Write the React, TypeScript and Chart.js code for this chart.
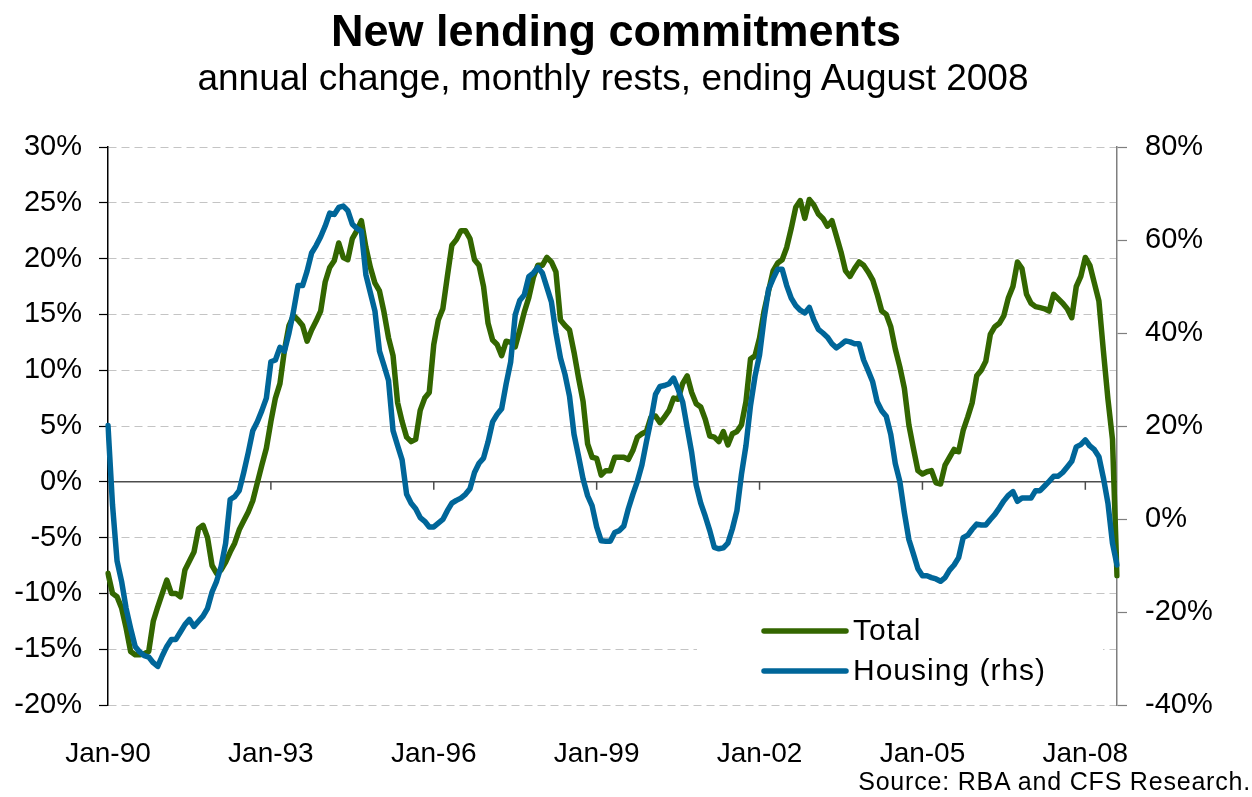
import React, { useEffect, useRef } from 'react';
import { Chart, registerables } from 'chart.js';

Chart.register(...registerables);

// ---------- Data ----------
const START_YEAR = 1990;
const MONTH_COUNT = 224; // Jan-90 .. Aug-08
const MONTH_NAMES = ['Jan', 'Feb', 'Mar', 'Apr', 'May', 'Jun', 'Jul', 'Aug', 'Sep', 'Oct', 'Nov', 'Dec'];
const categories: string[] = Array.from({ length: MONTH_COUNT }, (_, i) =>
  `${MONTH_NAMES[i % 12]}-${String((START_YEAR + Math.floor(i / 12)) % 100).padStart(2, '0')}`
);
const xTickLabels = ['Jan-90', 'Jan-93', 'Jan-96', 'Jan-99', 'Jan-02', 'Jan-05', 'Jan-08'];

// Total new lending commitments, annual % change (left axis)
const totalValues = [
  -8.2, -10.0, -10.3, -11.3, -13.1, -15.2, -15.5, -15.5, -15.4, -15.2, -12.5, -11.2,
  -10.0, -8.8, -10.0, -10.0, -10.3, -7.9, -7.1, -6.3, -4.2, -3.9, -5.0, -7.5,
  -8.2, -7.9, -7.2, -6.3, -5.5, -4.3, -3.5, -2.7, -1.7, -0.1, 1.5, 3.0,
  5.4, 7.5, 8.8, 11.8, 14.0, 14.9, 14.5, 14.0, 12.6, 13.6, 14.4, 15.3,
  17.9, 19.2, 19.8, 21.4, 20.1, 19.9, 21.8, 22.5, 23.4, 21.0, 19.2, 17.8,
  17.1, 15.2, 12.9, 11.3, 7.1, 5.4, 4.0, 3.6, 3.8, 6.4, 7.5, 8.0,
  12.3, 14.5, 15.5, 18.4, 21.2, 21.7, 22.5, 22.5, 21.8, 19.9, 19.4, 17.5,
  14.2, 12.7, 12.3, 11.3, 12.6, 12.5, 12.1, 13.6, 15.2, 16.5, 18.3, 19.4,
  19.4, 20.1, 19.7, 18.8, 14.5, 14.0, 13.6, 11.6, 9.3, 7.2, 3.4, 2.2,
  2.1, 0.6, 1.0, 1.0, 2.2, 2.2, 2.2, 2.0, 2.8, 4.0, 4.3, 4.5,
  5.8, 5.9, 5.3, 5.8, 6.4, 7.5, 7.4, 8.8, 9.5, 8.0, 7.0, 6.7,
  5.6, 4.1, 4.0, 3.6, 4.5, 3.3, 4.3, 4.5, 5.1, 7.2, 11.0, 11.3,
  12.9, 15.3, 17.1, 18.9, 19.6, 19.9, 21.0, 22.7, 24.6, 25.2, 23.6, 25.3,
  24.8, 24.0, 23.6, 22.9, 23.4, 22.0, 20.6, 18.9, 18.4, 19.1, 19.7, 19.4,
  18.8, 18.1, 16.8, 15.3, 15.0, 13.9, 11.9, 10.3, 8.4, 5.1, 3.0, 1.0,
  0.7, 0.9, 1.0, -0.1, -0.2, 1.5, 2.2, 2.9, 2.7, 4.6, 5.8, 7.1,
  9.5, 10.0, 10.8, 13.2, 13.9, 14.2, 14.9, 16.5, 17.5, 19.7, 19.1, 16.8,
  16.0, 15.7, 15.6, 15.5, 15.3, 16.8, 16.4, 16.0, 15.5, 14.7, 17.5, 18.4,
  20.1, 19.4, 17.8, 16.2, 11.7, 7.4, 3.8, -8.4,
];

// Housing new lending commitments, annual % change (right axis)
const housingValues = [
  20.1, 3.0, -9.0, -13.4, -19.2, -23.5, -27.4, -28.6, -29.4, -29.7, -30.9, -31.7,
  -29.4, -27.4, -25.9, -25.9, -24.3, -22.7, -21.6, -23.1, -22.0, -20.9, -19.2, -15.7,
  -13.4, -10.2, -5.2, 4.2, 4.8, 6.1, 10.0, 14.3, 19.0, 20.9, 23.3, 26.0,
  33.8, 34.2, 36.9, 36.1, 40.0, 44.7, 50.2, 50.2, 53.3, 57.2, 58.8, 60.7,
  63.0, 65.8, 65.5, 67.0, 67.3, 66.3, 63.4, 62.5, 61.9, 52.5, 48.6, 44.7,
  36.1, 33.0, 29.8, 19.0, 15.8, 12.7, 5.3, 3.4, 2.2, 0.3, -0.5, -1.7,
  -1.7, -0.9, -0.1, 1.8, 3.4, 4.0, 4.5, 5.3, 6.5, 10.0, 12.0, 13.1,
  16.6, 20.9, 22.5, 23.7, 29.1, 33.8, 43.9, 47.0, 48.2, 52.1, 52.9, 54.1,
  52.9, 49.8, 46.7, 40.0, 34.6, 31.1, 26.4, 18.2, 13.5, 8.6, 5.0, 2.8,
  -1.7, -4.7, -4.8, -4.8, -2.9, -2.5, -1.5, 2.2, 5.3, 8.1, 11.6, 16.6,
  21.3, 26.8, 28.5, 28.7, 29.1, 30.3, 27.9, 25.2, 19.7, 14.3, 7.3, 3.4,
  0.6, -2.5, -6.1, -6.4, -6.2, -5.2, -2.1, 1.8, 9.6, 15.8, 24.4, 30.7,
  35.3, 43.1, 49.4, 51.7, 53.7, 53.7, 50.2, 47.5, 45.9, 44.9, 44.3, 45.5,
  42.8, 40.8, 40.0, 39.1, 37.7, 36.8, 37.5, 38.3, 38.1, 37.7, 37.7, 34.2,
  31.9, 29.5, 25.2, 23.3, 22.1, 18.2, 11.9, 8.1, 1.4, -4.4, -7.5, -10.7,
  -12.2, -12.2, -12.6, -12.9, -13.4, -12.6, -11.0, -9.9, -8.3, -4.0, -3.5, -2.2,
  -1.1, -1.3, -1.3, -0.1, 1.0, 2.4, 3.9, 5.1, 5.9, 3.8, 4.5, 4.5,
  4.5, 6.1, 6.1, 7.1, 8.1, 9.2, 9.2, 10.0, 11.2, 12.4, 15.5, 16.0,
  17.0, 15.7, 14.9, 13.4, 8.8, 3.4, -5.2, -9.9,
];

const leftAxis = { min: -20, max: 30, step: 5 };
const rightAxis = { min: -40, max: 80, step: 20 };

const seriesLabels = ['Total', 'Housing (rhs)'];
const seriesColors = ['#336600', '#006699'];

const FONT = '"Liberation Sans", Arial, Helvetica, sans-serif';

// ---------- Plugins ----------
const zeroAxisPlugin = {
  id: 'zeroAxis',
  beforeDatasetsDraw(chart: any) {
    const { ctx, chartArea, scales } = chart;
    const y0 = scales.y.getPixelForValue(0);
    ctx.save();
    ctx.strokeStyle = '#4d4d4d';
    ctx.lineWidth = 1.5;
    ctx.beginPath();
    ctx.moveTo(chartArea.left, y0);
    ctx.lineTo(chartArea.right, y0);
    ctx.stroke();
    categories.forEach((c, i) => {
      if (i > 0 && xTickLabels.includes(c)) {
        const x = scales.x.getPixelForValue(i);
        ctx.beginPath();
        ctx.moveTo(x, y0);
        ctx.lineTo(x, y0 + 8);
        ctx.stroke();
      }
    });
    // legend background (covers grid lines)
    ctx.fillStyle = '#ffffff';
    ctx.fillRect(697, 604, 406, 96);
    ctx.restore();
  },
};

const legendPlugin = {
  id: 'customLegend',
  afterDraw(chart: any) {
    const { ctx } = chart;
    ctx.save();
    chart.data.datasets.forEach((ds: any, i: number) => {
      const y = 631 + i * 40;
      ctx.strokeStyle = ds.borderColor;
      ctx.lineWidth = 5.5;
      ctx.lineCap = 'round';
      ctx.beginPath();
      ctx.moveTo(764, y);
      ctx.lineTo(846, y);
      ctx.stroke();
      ctx.fillStyle = '#000';
      ctx.font = `30px ${FONT}`;
      ctx.textBaseline = 'middle';
      ctx.textAlign = 'left';
      try { (ctx as any).letterSpacing = '1px'; } catch (e) { /* ignore */ }
      ctx.fillText(ds.label, 853, y + 1);
    });
    ctx.restore();
  },
};

export default function App() {
  const canvasRef = useRef<HTMLCanvasElement | null>(null);

  useEffect(() => {
    if (!canvasRef.current) return;
    const chart = new Chart(canvasRef.current, {
      type: 'line',
      data: {
        labels: categories,
        datasets: [
          {
            label: seriesLabels[0],
            data: totalValues,
            yAxisID: 'y',
            borderColor: seriesColors[0],
            backgroundColor: seriesColors[0],
            borderWidth: 5.5,
            pointRadius: 0,
            tension: 0,
            fill: false,
            borderJoinStyle: 'round',
            borderCapStyle: 'round',
            order: 1,
          },
          {
            label: seriesLabels[1],
            data: housingValues,
            yAxisID: 'y1',
            borderColor: seriesColors[1],
            backgroundColor: seriesColors[1],
            borderWidth: 5.5,
            pointRadius: 0,
            tension: 0,
            fill: false,
            borderJoinStyle: 'round',
            borderCapStyle: 'round',
            order: 0,
          },
        ],
      },
      options: {
        responsive: false,
        animation: false,
        events: [],
        layout: { padding: { top: 147, left: 0, right: 0, bottom: 0 } },
        plugins: {
          legend: { display: false },
          tooltip: { enabled: false },
          title: { display: false },
        },
        scales: {
          x: {
            type: 'category',
            offset: false,
            grid: { display: false },
            border: { display: false },
            ticks: {
              autoSkip: false,
              maxRotation: 0,
              minRotation: 0,
              padding: 24,
              color: '#000',
              font: { family: FONT, size: 28 },
              callback: (_v: any, i: number) => (xTickLabels.includes(categories[i]) ? categories[i] : null),
            },
            afterFit: (s: any) => { s.height = 92; },
          },
          y: {
            position: 'left',
            min: leftAxis.min,
            max: leftAxis.max,
            ticks: {
              stepSize: leftAxis.step,
              padding: 17,
              color: '#000',
              font: { family: FONT, size: 29 },
              callback: (v: any) => `${v}%`,
            },
            grid: {
              color: (c: any) => (c.tick && c.tick.value === 0 ? 'rgba(0,0,0,0)' : '#c4c4c4'),
              lineWidth: 1,
              drawTicks: true,
              tickLength: 9,
              tickColor: '#000',
              tickWidth: 1.2,
            },
            border: { display: true, color: '#000', width: 1.5, dash: [8, 5] },
            afterFit: (s: any) => { s.width = 108; },
          },
          y1: {
            position: 'right',
            min: rightAxis.min,
            max: rightAxis.max,
            ticks: {
              stepSize: rightAxis.step,
              padding: 18,
              color: '#000',
              font: { family: FONT, size: 29 },
              callback: (v: any) => `${v}%`,
            },
            grid: {
              drawOnChartArea: false,
              drawTicks: true,
              tickLength: 10,
              tickColor: '#7f7f7f',
              tickWidth: 1.2,
            },
            border: { display: true, color: '#7f7f7f', width: 1.5 },
            afterFit: (s: any) => { s.width = 135; },
          },
        },
      } as any,
      plugins: [zeroAxisPlugin, legendPlugin],
    });
    return () => chart.destroy();
  }, []);

  return (
    <div style={{ position: 'fixed', left: 0, top: 0, width: 1252, height: 797, background: '#fff', overflow: 'hidden' }}>
      <canvas ref={canvasRef} width={1252} height={797} style={{ position: 'absolute', left: 0, top: 0, display: 'block' }} />
      <div style={{ position: 'absolute', left: 0, top: 8, width: 1232, textAlign: 'center', font: `bold 45px/45px ${FONT}`, color: '#000', whiteSpace: 'nowrap' }}>
        New lending commitments
      </div>
      <div style={{ position: 'absolute', left: 0, top: 59, width: 1226, textAlign: 'center', font: `37px/37px ${FONT}`, color: '#000', whiteSpace: 'nowrap' }}>
        annual change, monthly rests, ending August 2008
      </div>
      <div style={{ position: 'absolute', right: 1, top: 769, font: `25px/25px ${FONT}`, letterSpacing: '0.8px', color: '#000', whiteSpace: 'nowrap' }}>
        Source: RBA and CFS Research.
      </div>
    </div>
  );
}
